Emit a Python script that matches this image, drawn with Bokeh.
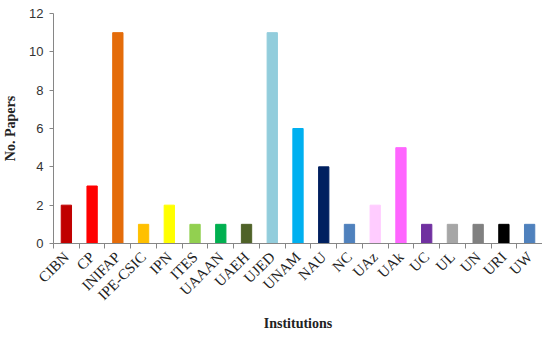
from bokeh.plotting import figure
from bokeh.models import ColumnDataSource, FixedTicker, Range1d
from bokeh.embed import file_html
from bokeh.resources import INLINE
import math

institutions = ["CIBN", "CP", "INIFAP", "IPE-CSIC", "IPN", "ITES", "UAAAN", "UAEH", "UJED",
                "UNAM", "NAU", "NC", "UAz", "UAk", "UC", "UL", "UN", "URI", "UW"]
papers = [2, 3, 11, 1, 2, 1, 1, 1, 11, 6, 4, 1, 2, 5, 1, 1, 1, 1, 1]
colors = ["#C00000", "#FF0000", "#E46C0A", "#FFC000", "#FFFF00", "#92D050", "#00B050", "#4F6228",
          "#92CDDC", "#00B0F0", "#002060", "#4F81BD", "#FFCCFF", "#FF66FF", "#7030A0", "#A6A6A6",
          "#808080", "#000000", "#4F81BD"]
y_ticks = [0, 2, 4, 6, 8, 10, 12]

pos = list(range(len(institutions)))
src = ColumnDataSource(dict(x=pos, top=papers, color=colors))

p = figure(width=542, height=335, output_backend="svg", toolbar_location=None,
           x_range=Range1d(-0.5, len(institutions) - 0.5), y_range=Range1d(0, 12),
           min_border_left=49, min_border_right=0, min_border_top=13, min_border_bottom=92)
p.outline_line_color = None
p.grid.grid_line_color = None
p.background_fill_color = "white"
p.border_fill_color = "white"

p.vbar(x="x", top="top", width=0.4, color="color", source=src)

serif = "Liberation Serif"
axis_gray = "#868686"

xa = p.xaxis[0]
xa.ticker = FixedTicker(ticks=pos, minor_ticks=[i - 0.5 for i in range(len(institutions) + 1)])
xa.major_label_overrides = {i: n for i, n in enumerate(institutions)}
xa.major_label_orientation = math.pi / 4
xa.major_tick_in = 0
xa.major_tick_out = 0
xa.minor_tick_in = 0
xa.minor_tick_out = 5
xa.minor_tick_line_color = axis_gray
xa.axis_line_color = axis_gray
xa.major_label_text_font = serif
xa.major_label_text_font_size = "15px"
xa.major_label_text_color = "#222222"
xa.major_label_standoff = 6
xa.axis_label = "Institutions"
xa.axis_label_text_font = serif
xa.axis_label_text_font_style = "bold"
xa.axis_label_text_font_size = "14px"
xa.axis_label_text_color = "#222222"
xa.axis_label_standoff = 4

ya = p.yaxis[0]
ya.ticker = FixedTicker(ticks=y_ticks)
ya.minor_tick_line_color = None
ya.major_tick_in = 0
ya.major_tick_out = 4
ya.major_tick_line_color = axis_gray
ya.axis_line_color = axis_gray
ya.major_label_text_font = "Liberation Sans"
ya.major_label_text_font_size = "13px"
ya.major_label_text_color = "#333333"
ya.major_label_standoff = 6
ya.axis_label = "No. Papers"
ya.axis_label_text_font = serif
ya.axis_label_text_font_style = "bold"
ya.axis_label_text_font_size = "14px"
ya.axis_label_text_color = "#222222"
ya.axis_label_standoff = 8

open("out.html", "w").write(file_html(p, INLINE))
